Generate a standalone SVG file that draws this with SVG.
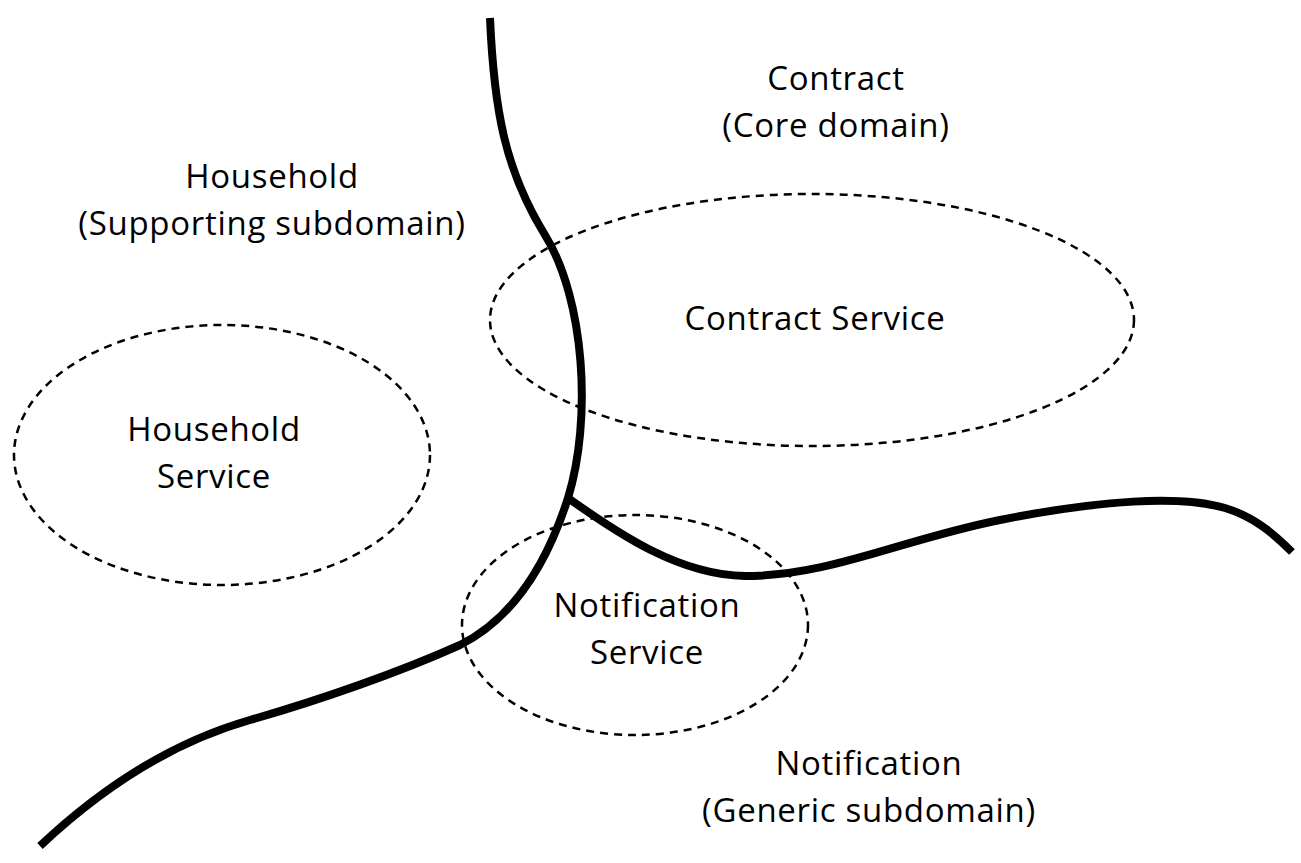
<svg xmlns="http://www.w3.org/2000/svg" width="1301" height="863" viewBox="0 0 1301 863">
<style>
.b{fill:none;stroke:#000;stroke-width:8;stroke-linejoin:round}
.e{fill:none;stroke:#000;stroke-width:2.5;stroke-dasharray:8 6}
text{font-family:"Open Sans","Noto Sans",sans-serif;font-size:33px;letter-spacing:0.7px;fill:#000;text-anchor:middle}
</style>
<rect width="1301" height="863" fill="#fff"/>
<g id="connectors">
<path class="b" d="M490,18 C494,110 505,170 545,235 C585,300 592,420 568,498 C545,570 510,620 460,645 C400,672 320,700 250,720 C180,740 110,780 40,846"/>
<path class="b" d="M568,498 C620,535 680,575 745,576 C830,576 900,540 1000,520 C1100,500 1180,495 1225,508 C1255,517 1275,535 1292,552"/>
</g>
<g id="household-service">
<ellipse class="e" cx="222" cy="455" rx="208" ry="130"/>
<text x="214" y="441">Household</text>
<text x="214" y="488">Service</text>
</g>
<g id="contract-service">
<ellipse class="e" cx="812" cy="320" rx="322" ry="126"/>
<text x="815" y="330">Contract Service</text>
</g>
<g id="notification-service">
<ellipse class="e" cx="635" cy="625" rx="173" ry="110"/>
<text x="647" y="617">Notification</text>
<text x="647" y="664">Service</text>
</g>
<g id="household-label">
<text x="272" y="188">Household</text>
<text x="272" y="235">(Supporting subdomain)</text>
</g>
<g id="contract-label">
<text x="836" y="90">Contract</text>
<text x="836" y="137">(Core domain)</text>
</g>
<g id="notification-label">
<text x="869" y="775">Notification</text>
<text x="869" y="822">(Generic subdomain)</text>
</g>
</svg>
